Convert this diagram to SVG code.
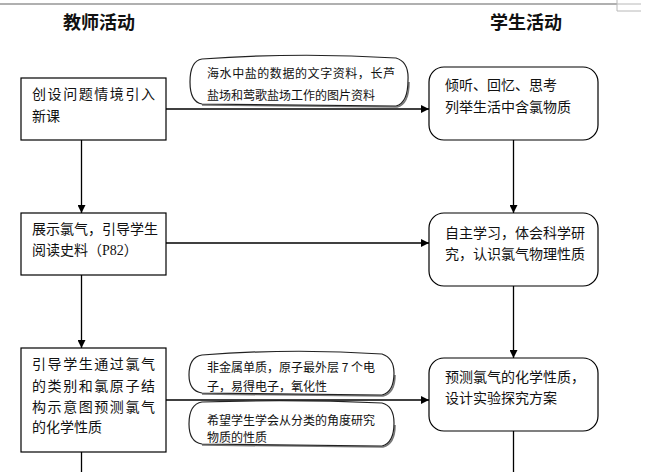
<svg xmlns="http://www.w3.org/2000/svg" width="658" height="472" viewBox="0 0 658 472">
<style>
.t{font-family:"Noto Sans CJK SC","Noto Sans",sans-serif;font-size:14px;fill:#111}
.s{font-family:"Noto Sans CJK SC","Noto Sans",sans-serif;font-size:12px;fill:#111}
.h{font-family:"Noto Sans CJK SC","Noto Sans",sans-serif;font-size:18px;font-weight:bold;fill:#111}
.box{fill:#fff;stroke:#000;stroke-width:1.2}
.call{fill:#fff;stroke:#222;stroke-width:1.2}
.shadow{fill:none;stroke:#777;stroke-width:1.6}
.ln{stroke:#000;stroke-width:1.3;fill:none}
</style>
<defs>
<marker id="ah" viewBox="0 0 10 10" refX="10" refY="5" markerWidth="8" markerHeight="8" markerUnits="userSpaceOnUse" orient="auto">
<path d="M0,0 L10,5 L0,10 z" fill="#000"/>
</marker>
</defs>
<rect width="658" height="472" fill="#fff"/>
<g id="topbar">
<line x1="0" y1="4" x2="617" y2="4" stroke="#b0b0b0" stroke-width="2"/>
<path d="M617,0 V11 H641 M617,4 H641" fill="none" stroke="#b8b8b8" stroke-width="1"/>
</g>
<g id="header-teacher"><text class="h" x="63" y="28.5">教师活动</text></g>
<g id="header-student"><text class="h" x="490" y="28.5">学生活动</text></g>

<g id="connectors">
<line class="ln" x1="81.5" y1="140" x2="81.5" y2="213" marker-end="url(#ah)"/>
<line class="ln" x1="81.5" y1="275" x2="81.5" y2="348" marker-end="url(#ah)"/>
<line class="ln" x1="81.5" y1="452" x2="81.5" y2="472"/>
<line class="ln" x1="513.5" y1="140" x2="513.5" y2="213" marker-end="url(#ah)"/>
<line class="ln" x1="513.5" y1="286" x2="513.5" y2="358" marker-end="url(#ah)"/>
<line class="ln" x1="513.5" y1="431" x2="513.5" y2="472"/>
<line class="ln" x1="166" y1="109" x2="429" y2="109" marker-end="url(#ah)"/>
<line class="ln" x1="166" y1="243" x2="429" y2="243" marker-end="url(#ah)"/>
<line class="ln" x1="166" y1="400" x2="429" y2="400" marker-end="url(#ah)"/>
</g>

<g id="t1">
<rect class="box" x="21" y="78" width="145" height="62"/>
<text class="t" x="32" y="99" textLength="123" lengthAdjust="spacing">创设问题情境引入</text>
<text class="t" x="32" y="120.5">新课</text>
</g>
<g id="t2">
<rect class="box" x="21" y="213" width="145" height="62"/>
<text class="t" x="32" y="234">展示氯气，引导学生</text>
<text class="t" x="32" y="255">阅读史料（<tspan font-family="Liberation Serif, serif">P82</tspan>）</text>
</g>
<g id="t3">
<rect class="box" x="21" y="348" width="145" height="104"/>
<text class="t" x="32" y="369" textLength="123" lengthAdjust="spacing">引导学生通过氯气</text>
<text class="t" x="32" y="390.5" textLength="123" lengthAdjust="spacing">的类别和氯原子结</text>
<text class="t" x="32" y="411.5" textLength="123" lengthAdjust="spacing">构示意图预测氯气</text>
<text class="t" x="32" y="432">的化学性质</text>
</g>

<g id="s1">
<rect class="box" x="429" y="67" width="169" height="73" rx="15" ry="15"/>
<text class="t" x="445" y="90">倾听、回忆、思考</text>
<text class="t" x="445" y="112">列举生活中含氯物质</text>
</g>
<g id="s2">
<rect class="box" x="429" y="213" width="169" height="73" rx="15" ry="15"/>
<text class="t" x="445" y="238">自主学习，体会科学研</text>
<text class="t" x="445" y="258.5">究，认识氯气物理性质</text>
</g>
<g id="s3">
<rect class="box" x="429" y="358" width="169" height="73" rx="15" ry="15"/>
<text class="t" x="445" y="382">预测氯气的化学性质，</text>
<text class="t" x="445" y="403">设计实验探究方案</text>
</g>

<g id="c1">
<path class="shadow" d="M409,82 Q409,104 397,107 L202,105"/>
<path class="call" d="M202,59 Q299,52 396,58 Q409,62 408,80 Q408,103 396,106 L202,104 Q190,102 190,82 Q190,61 202,59 Z"/>
<text class="s" x="207" y="77.5" textLength="188" lengthAdjust="spacing">海水中盐的数据的文字资料，长芦</text>
<text class="s" x="207" y="99.5">盐场和莺歌盐场工作的图片资料</text>
</g>
<g id="c2">
<path class="shadow" d="M395,375 Q395,393 383,396 L202,394"/>
<path class="call" d="M202,355 Q292,348 382,354 Q394,358 394,373 Q394,392 382,395 L202,393 Q189,391 189,375 Q189,357 202,355 Z"/>
<text class="s" x="207" y="371.5">非金属单质，原子最外层 7 个电</text>
<text class="s" x="207" y="391">子，易得电子，氧化性</text>
</g>
<g id="c3">
<path class="shadow" d="M395,425 Q395,444 383,447 L202,445"/>
<path class="call" d="M202,402 Q292,399 382,403 Q394,406 394,423 Q394,443 382,446 L202,444 Q189,442 189,424 Q189,404 202,402 Z"/>
<text class="s" x="207" y="424.5">希望学生学会从分类的角度研究</text>
<text class="s" x="207" y="441.5">物质的性质</text>
</g>
</svg>
